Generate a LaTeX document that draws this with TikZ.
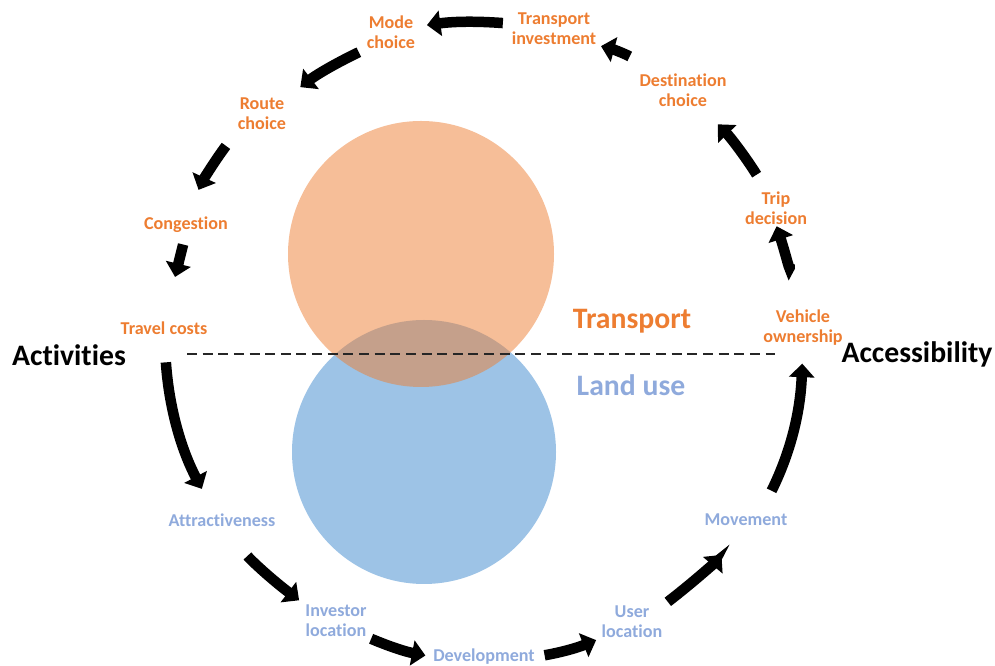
\documentclass[tikz,border=0pt]{standalone}
\usepackage{fontspec}
\setmainfont[Ligatures=NoCommon]{Carlito}
\usepackage{tikz}
\usetikzlibrary{arrows.meta}
\usetikzlibrary{positioning}
\definecolor{troran}{HTML}{ED7D31}
\definecolor{lublue}{HTML}{8FAADC}
\definecolor{lufill}{HTML}{5B9BD5}
\tikzset{
  lab/.style={inner sep=0pt, outer sep=0pt, align=center,
              font=\bfseries\fontsize{10.3}{11.3}\selectfont},
  trlab/.style={lab, text=troran},
  lulab/.style={lab, text=lublue},
  biglab/.style={inner sep=0pt, font=\bfseries\fontsize{16.9}{19}\selectfont},
}
\tikzset{flow/.style={-{Triangle[width=0.5cm,length=0.27cm]},
                      line width=0.21cm, black}}

\begin{document}
\begin{tikzpicture}[x=0.02cm, y=0.02cm]
    \useasboundingbox (0,0) rectangle (995,666);

    \fill[lufill, opacity=0.6] (424,214) circle[radius=132];
    \fill[troran, opacity=0.5] (421,412) circle[radius=133];

    \coordinate (dl) at (187,312);
    \coordinate (dr) at (775,312);
    \draw[black!85, line width=0.85pt, dash pattern=on 5.7pt off 3.2pt] (dl) -- (dr);

    \node[biglab] (act) at (69,311) {Activities};
    \node[biglab] (acc) at (917,312) {Accessibility};
    \node[biglab, text=troran] (trtitle) at (632,345) {Transport};
    \node[biglab, text=lublue] (lutitle) at (631,281) {Land use};

    \node[trlab] (tinv) at (554,637) {Transport\\investment};
    \node[trlab] (mode) at (391,634) {Mode\\choice};
    \node[trlab] (route) at (262,552) {Route\\choice};
    \node[trlab] (cong) at (186,441) {Congestion};
    \node[trlab] (travel) at (164,338) {Travel costs};
    \node[trlab] (dest) at (683,576) {Destination\\choice};
    \node[trlab] (trip) at (776,458) {Trip\\decision};
    \node[trlab] (vehicle) at (803,338) {Vehicle\\ownership};

    \node[lulab] (attract) at (222,146) {Attractiveness};
    \node[lulab] (investor) at (336,45) {Investor\\location};
    \node[lulab] (develop) at (484,9) {Development};
    \node[lulab] (user) at (632,44) {User\\location};
    \node[lulab] (movement) at (746,146) {Movement};

    \draw[flow, shorten <=0.18cm, shorten >=0.24cm] ([yshift=3pt]tinv.west) to[bend right=6] ([yshift=3pt]mode.east);
    \draw[flow, shorten <=0.18cm, shorten >=0.36cm] (mode.south west) to[bend right=6] (route.north east);
    \draw[flow, shorten <=0.40cm, shorten >=0.60cm] (route.south west) to[bend right=6] (cong.north);
    \draw[flow, shorten <=0.24cm, shorten >=0.92cm] (cong.south) -- (travel.north);
    \draw[flow, shorten <=0.56cm, shorten >=0.56cm] (travel.south) to[bend right=12] ([xshift=-4pt]attract.north);
    \draw[flow, shorten <=0.78cm, shorten >=0.16cm] (attract.south) to[bend right=6] (investor.north west);
    \draw[flow, shorten <=0.10cm, shorten >=0.16cm] (investor.south east) to[bend right=6] (develop.west);
    \draw[flow, shorten <=0.20cm, shorten >=0.12cm] (develop.east) to[bend right=6] (user.south west);
    \draw[flow, shorten <=0.14cm, shorten >=0.76cm] (user.north east) to[bend right=6] (movement.south);
    \draw[flow, shorten <=0.52cm, shorten >=0.36cm] ([xshift=8pt]movement.north) to[bend right=12] (vehicle.south);
    \draw[flow, shorten <=0.92cm, shorten >=0.04cm] ([xshift=-5pt]vehicle.north) to[bend right=6] (trip.south);
    \draw[flow, shorten <=0.40cm, shorten >=0.50cm] ([xshift=-5pt]trip.north) to[bend right=6] ([xshift=10pt]dest.south);
    \draw[flow, shorten <=0.22cm, shorten >=0.10cm] ([yshift=7pt]dest.north west) to[bend right=6] (tinv.south east);
\end{tikzpicture}
\end{document}
